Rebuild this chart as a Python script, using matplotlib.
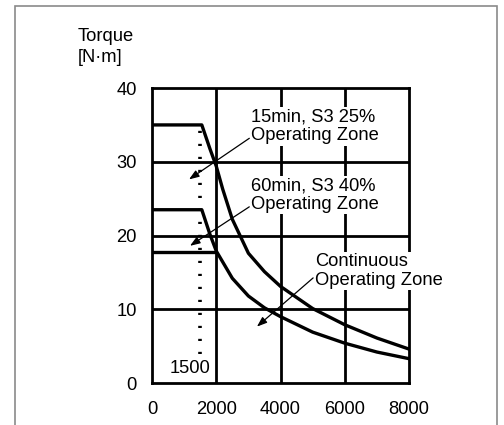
import numpy as np
import matplotlib.pyplot as plt
from matplotlib.patches import Rectangle

plt.rcParams['font.family'] = ['Liberation Sans', 'DejaVu Sans']

# speed [r/min] vs torque [N.m]
speed_s3_25 = [0, 1550, 1800, 2000, 2200, 2500, 3000, 3500, 4000, 5000, 6000, 7000, 8000]
torque_s3_25 = [35, 35, 31.8, 29.4, 26.3, 22.2, 17.6, 15.1, 13.1, 10.1, 7.9, 6.1, 4.6]

speed_s3_40 = [0, 1550, 1800, 2000, 2500, 3000, 3500, 4000, 5000, 6000, 7000, 8000]
torque_s3_40 = [23.5, 23.5, 20.2, 17.9, 14.2, 11.8, 10.2, 9.0, 6.9, 5.4, 4.2, 3.3]

speed_cont = [0, 1950]
torque_cont = [17.7, 17.7]

base_speed = 1500
base_top = 35
x_ticks = [0, 2000, 4000, 6000, 8000]
y_ticks = [0, 10, 20, 30, 40]

FS = 13.2

fig = plt.figure(figsize=(5.04, 4.25), dpi=100)
ax = fig.add_axes([0.3016, 0.0988, 0.51, 0.694])

# outer frame of the picture
fig.patches.append(Rectangle((14.5 / 504, -0.05), (497 - 14.5) / 504, 1.05 - 6 / 425,
                             transform=fig.transFigure, fill=False,
                             edgecolor='#8a8a8a', linewidth=1.2))

for v in [2000, 4000, 6000]:
    ax.axvline(v, color='black', linewidth=2, zorder=1)
for v in [10, 20, 30]:
    ax.axhline(v, color='black', linewidth=2, zorder=1)

ax.plot(speed_s3_25, torque_s3_25, color='black', linewidth=2.4, zorder=3)
ax.plot(speed_s3_40, torque_s3_40, color='black', linewidth=2.4, zorder=3)
ax.plot(speed_cont, torque_cont, color='black', linewidth=2.4, zorder=3)
ax.plot([base_speed, base_speed], [4.0, base_top], color='black', linewidth=2.6,
        linestyle=(0, (0.6, 3.0)), zorder=3)

ax.text(1180, 2.0, '1500', fontsize=FS, ha='center', va='center', zorder=4)

txt_kw = dict(fontsize=FS, ha='left', va='center', linespacing=1.1,
              bbox=dict(facecolor='white', edgecolor='none', pad=1), zorder=5)
ax.text(3080, 34.8, '15min, S3 25%\nOperating Zone', **txt_kw)
ax.text(3080, 25.5, '60min, S3 40%\nOperating Zone', **txt_kw)
ax.text(5080, 15.2, 'Continuous\nOperating Zone', **txt_kw)

arr = dict(arrowstyle='-|>,head_length=0.6,head_width=0.22', color='black', lw=0.9)
ax.annotate('', xy=(1080, 27.4), xytext=(3100, 33.4), arrowprops=arr, zorder=6)
ax.annotate('', xy=(1110, 18.4), xytext=(3100, 24.1), arrowprops=arr, zorder=6)
ax.annotate('', xy=(3200, 7.4), xytext=(5080, 14.5), arrowprops=arr, zorder=6)

ax.set_xlim(0, 8000)
ax.set_ylim(0, 40)
ax.set_xticks(x_ticks)
ax.set_yticks(y_ticks)
ax.tick_params(length=0, labelsize=FS)
ax.tick_params(axis='y', pad=11)
ax.tick_params(axis='x', pad=13)
for s in ax.spines.values():
    s.set_linewidth(2)

fig.text(78 / 504, 1 - 47 / 425, 'Torque\n[N\u00b7m]', fontsize=FS, ha='left',
         va='center', linespacing=1.38)

fig.savefig('out.png', dpi=100)
